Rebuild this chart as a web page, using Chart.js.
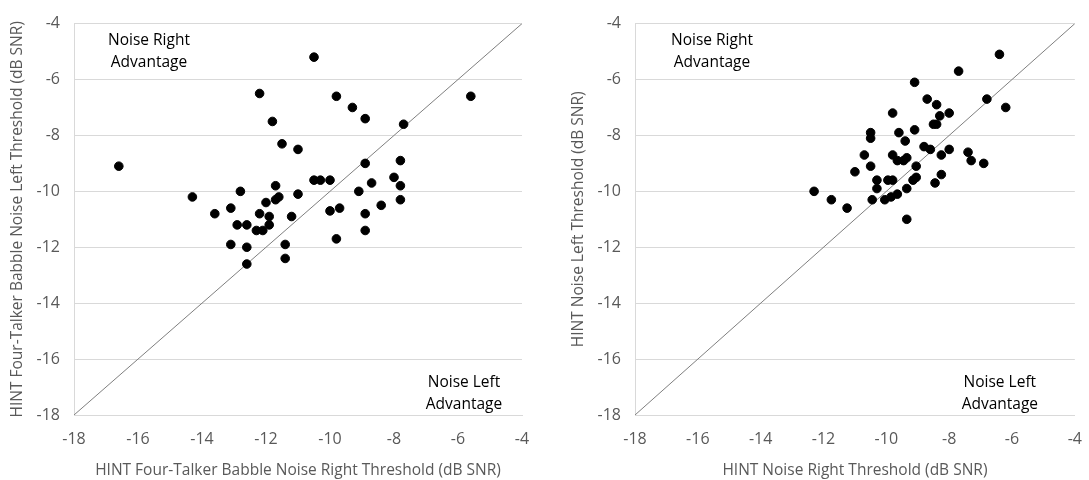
<!DOCTYPE html>
<html>
<head>
<meta charset="utf-8">
<script src="https://cdn.jsdelivr.net/npm/chart.js@4/dist/chart.umd.min.js"></script>
<style>
html,body{margin:0;padding:0;background:#fff;}
#wrap{position:relative;width:1089px;height:480px;}
.c{position:absolute;top:0;height:480px;}
</style>
</head>
<body>
<div id="wrap">
  <div class="c" style="left:0;width:545px;"><canvas id="c1"></canvas></div>
  <div class="c" style="left:545px;width:544px;"><canvas id="c2"></canvas></div>
</div>
<script>
// Left panel: HINT four-talker babble
const babbleRight = [-10.5,-12.2,-9.8,-9.3,-8.9,-5.6,-11.8,-7.7,-11.5,-11.0,-16.6,-8.9,-7.8,
  -14.3,-13.6,-13.1,-12.8,-13.1,-12.9,-12.6,-12.6,-12.6,-12.3,-12.1,-12.2,-12.0,-11.9,-11.9,
  -11.7,-11.7,-11.6,-11.4,-11.4,-11.2,-11.0,-10.5,-10.3,-10.0,-10.0,-9.7,-9.8,-9.1,-8.7,-8.9,
  -8.9,-8.4,-8.0,-7.8,-7.8];
const babbleLeft = [-5.2,-6.5,-6.6,-7.0,-7.4,-6.6,-7.5,-7.6,-8.3,-8.5,-9.1,-9.0,-8.9,
  -10.2,-10.8,-10.6,-10.0,-11.9,-11.2,-11.2,-12.0,-12.6,-11.4,-11.4,-10.8,-10.4,-10.9,-11.2,
  -9.8,-10.3,-10.2,-11.9,-12.4,-10.9,-10.1,-9.6,-9.6,-9.6,-10.7,-10.6,-11.7,-10.0,-9.7,-10.8,
  -11.4,-10.5,-9.5,-9.8,-10.3];
// Right panel: HINT noise
const noiseRight = [-6.4,-7.7,-9.1,-6.8,-6.2,-8.7,-8.4,-9.8,-8.0,-8.3,-8.5,-8.4,-10.5,-10.5,
  -9.6,-9.1,-9.4,-8.8,-8.6,-8.0,-7.4,-7.3,-6.9,-10.7,-10.5,-9.8,-9.65,-9.45,-9.35,-8.25,-8.25,
  -8.45,-9.05,-9.05,-9.15,-9.35,-9.35,-11.0,-10.3,-10.3,-9.95,-9.8,-12.3,-11.75,-11.25,-10.45,
  -10.05,-9.85,-9.65];
const noiseLeft = [-5.1,-5.7,-6.1,-6.7,-7.0,-6.7,-6.9,-7.2,-7.2,-7.3,-7.6,-7.6,-7.9,-8.1,
  -7.9,-7.8,-8.2,-8.4,-8.5,-8.5,-8.6,-8.9,-9.0,-8.7,-9.1,-8.7,-8.9,-8.9,-8.8,-8.7,-9.4,
  -9.7,-9.1,-9.5,-9.6,-9.9,-11.0,-9.3,-9.6,-9.9,-9.6,-9.6,-10.0,-10.3,-10.6,-10.3,
  -10.3,-10.2,-10.1];
const equalityLine = [-18, -4];
const axisTicks = [-18,-16,-14,-12,-10,-8,-6,-4];
const titlesLeft = ['HINT Four-Talker Babble Noise Right Threshold (dB SNR)','HINT Four-Talker Babble Noise Left Threshold (dB SNR)'];
const titlesRight = ['HINT Noise Right Threshold (dB SNR)','HINT Noise Left Threshold (dB SNR)'];
const regionLabels = [['Noise Right','Advantage'],['Noise Left','Advantage']];

const FONT = "'Open Sans', 'Noto Sans', sans-serif";
const GRAY = '#595959';

const annot = {
  id:'annot',
  afterDatasetsDraw(chart, args, opts){
    const ctx = chart.ctx, a = chart.chartArea;
    ctx.save();
    ctx.fillStyle = '#000';
    ctx.font = "15.5px " + FONT;
    ctx.textAlign = 'center';
    ctx.textBaseline = 'middle';
    const tl = regionLabels[0], br = regionLabels[1];
    ctx.fillText(tl[0], a.left + opts.tlx, a.top + 17);
    ctx.fillText(tl[1], a.left + opts.tlx, a.top + 39);
    ctx.fillText(br[0], a.right - opts.brx, a.bottom - 32);
    ctx.fillText(br[1], a.right - opts.brx, a.bottom - 10);
    ctx.restore();
  }
};

function build(id, xs, ys, titles, pad, tlx, brx){
  const pts = xs.map((x,i)=>({x:x, y:ys[i]}));
  const line = equalityLine.map(v=>({x:v,y:v}));
  return new Chart(document.getElementById(id), {
    type:'scatter',
    data:{datasets:[
      {type:'line', data:line, borderColor:'#7f7f7f', borderWidth:1, pointRadius:0, fill:false, order:2},
      {data:pts, backgroundColor:'#000', borderColor:'#000', pointRadius:4.3, pointHoverRadius:4.3, order:1}
    ]},
    options:{
      responsive:true, maintainAspectRatio:false, animation:false,
      layout:{padding:pad},
      plugins:{legend:{display:false}, tooltip:{enabled:false}, annot:{tlx:tlx, brx:brx}},
      scales:{
        x:{type:'linear', min:-18, max:-4,
          afterBuildTicks(s){ s.ticks = axisTicks.map(v=>({value:v})); },
          grid:{display:false},
          border:{display:true, color:'#d9d9d9', width:1},
          ticks:{color:GRAY, font:{family:FONT, size:16}, padding:7},
          title:{display:true, text:titles[0], color:GRAY, font:{family:FONT, size:15.5}, padding:{top:0,bottom:0}},
          afterFit(s){ s.height = 65; }
        },
        y:{type:'linear', min:-18, max:-4,
          afterBuildTicks(s){ s.ticks = axisTicks.map(v=>({value:v})); },
          grid:{color:'#d9d9d9', lineWidth:1, drawTicks:false},
          border:{display:true, color:'#d9d9d9', width:1},
          ticks:{color:GRAY, font:{family:FONT, size:16}, padding:14},
          title:{display:true, text:titles[1], color:GRAY, font:{family:FONT, size:15.5}, padding:{top:8,bottom:0}},
          afterFit(s){ s.width = 74; }
        }
      }
    },
    plugins:[annot]
  });
}
build('c1', babbleRight, babbleLeft, titlesLeft, {left:0, right:23, top:16, bottom:0}, 75, 58);
build('c2', noiseRight, noiseLeft, titlesRight, {left:16, right:6, top:16, bottom:0}, 77, 75);
</script>
</body>
</html>
